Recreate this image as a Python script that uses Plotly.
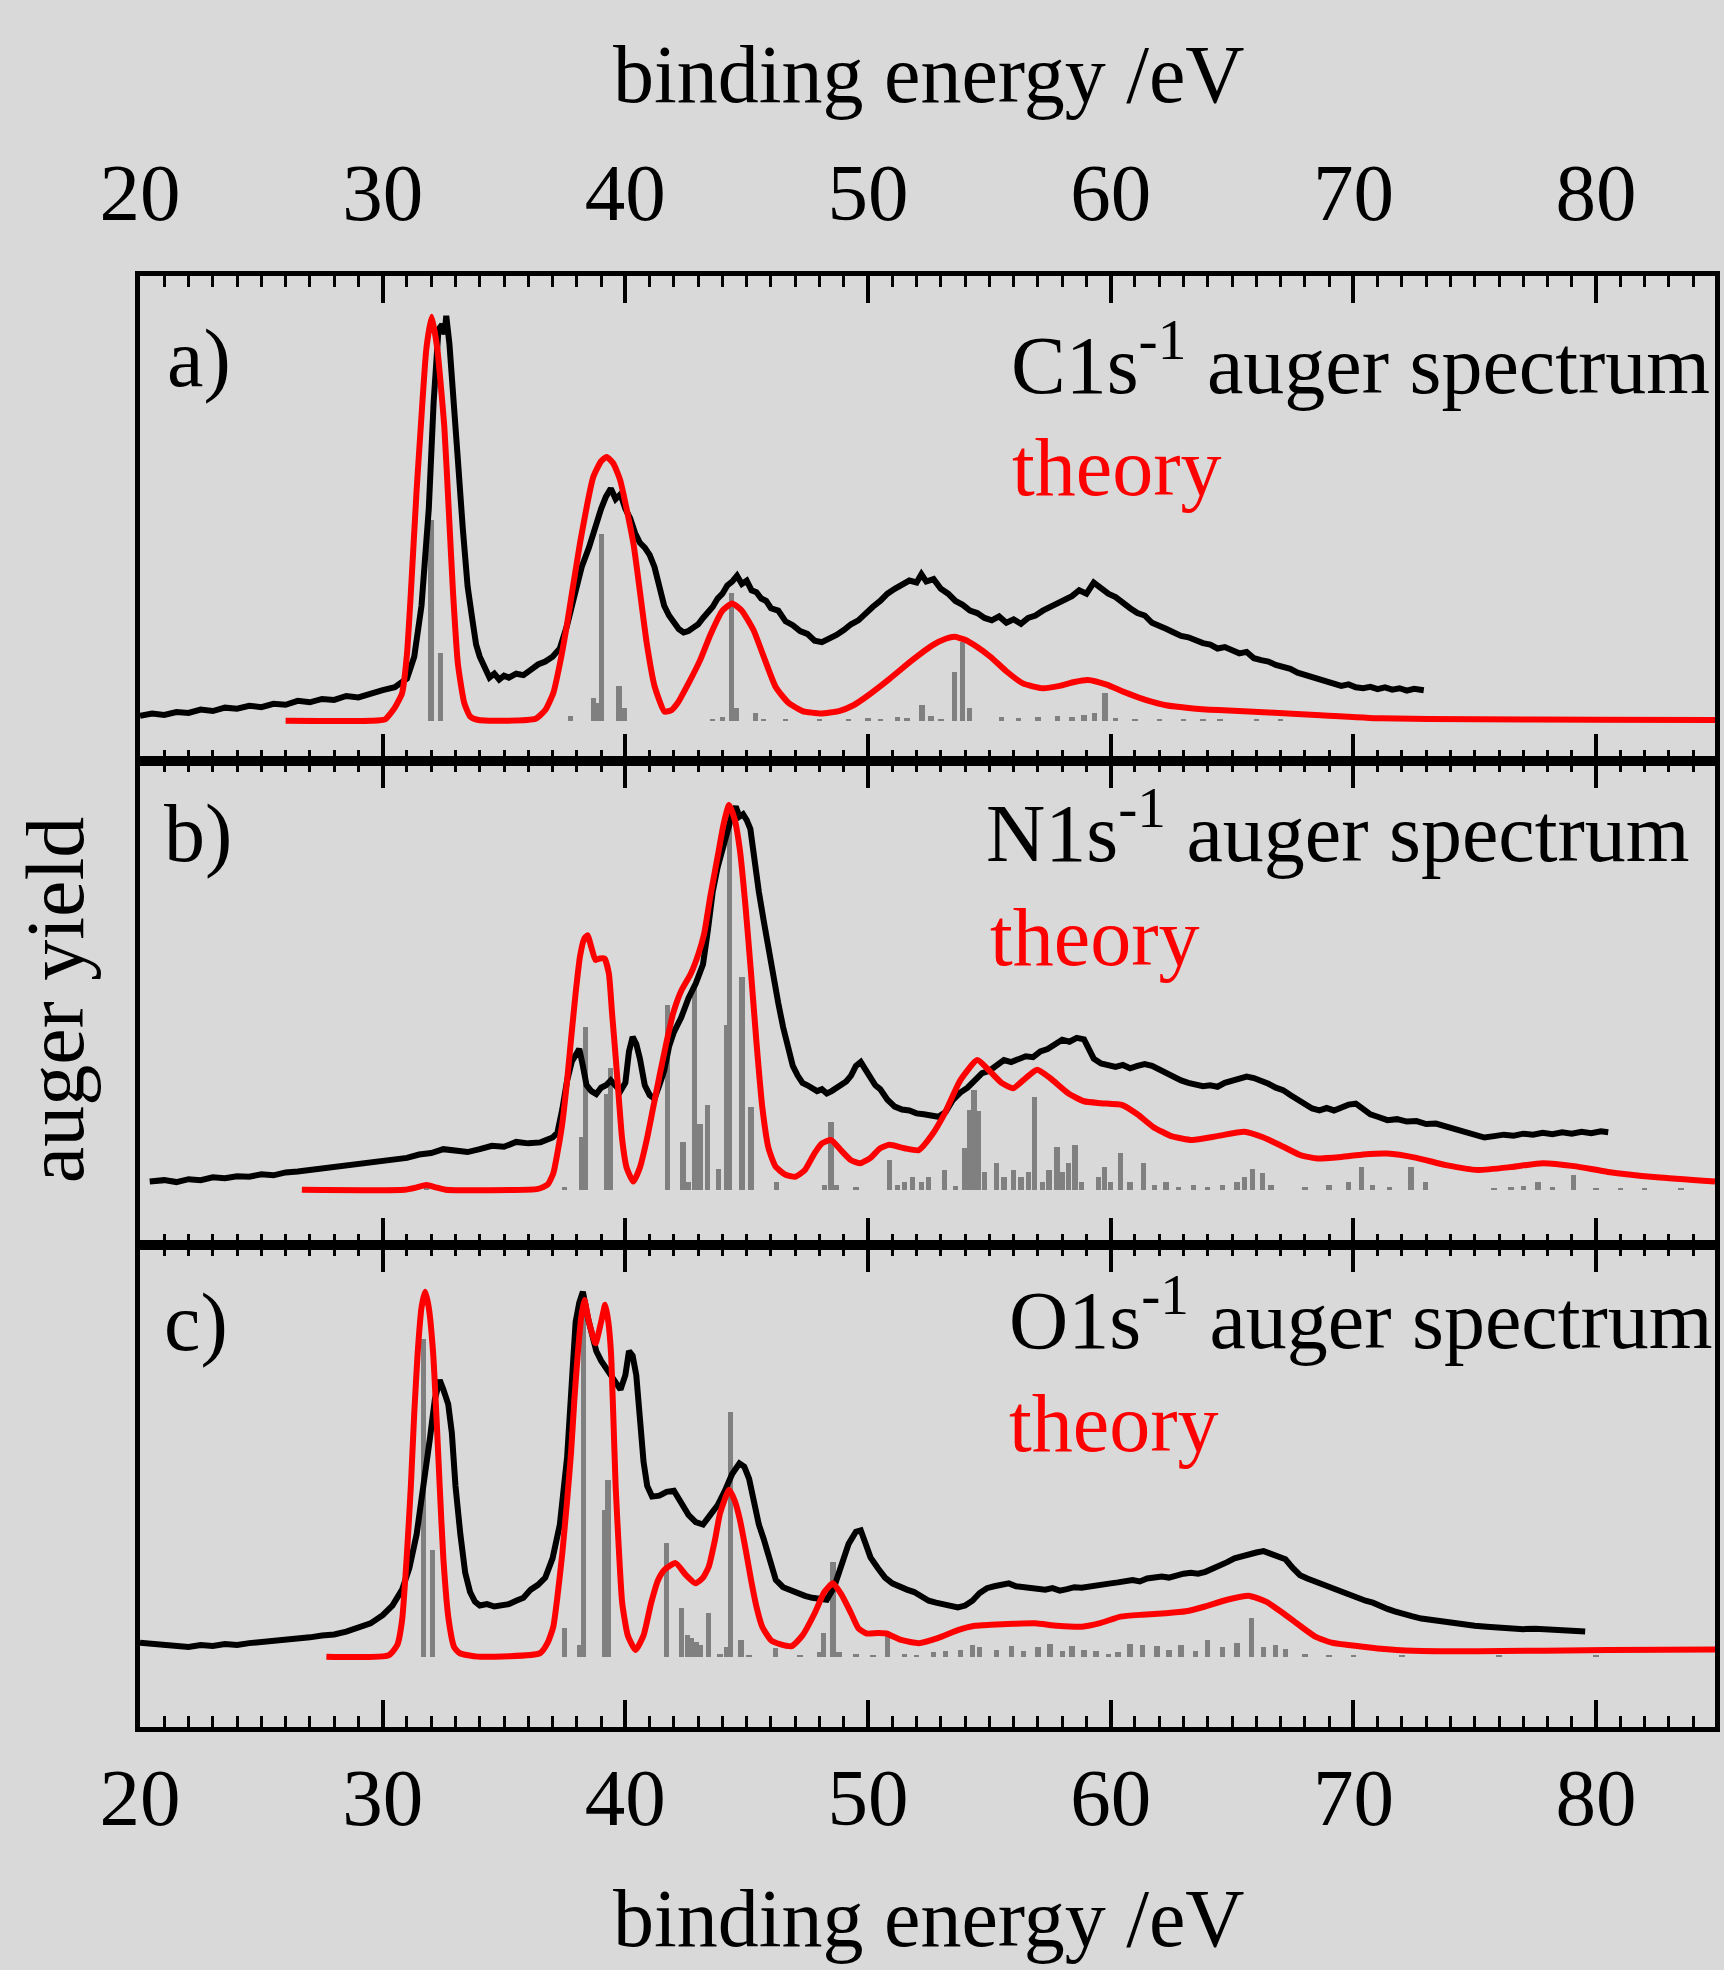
import plotly.graph_objects as go

# ---------------- data (energies in eV, intensities in arbitrary units) ----------------
x_range = [20, 84.9]
tick_vals = [20, 30, 40, 50, 60, 70, 80]
tick_text = ["20", "30", "40", "50", "60", "70", "80"]

# panel a) C1s
a_exp_x = [20.0,20.5,21.0,21.5,22.0,22.5,23.0,23.5,24.0,24.5,25.0,25.5,26.0,26.5,27.0,27.5,28.0,28.5,29.0,29.5,30.0,30.5,31.0,31.3,31.6,31.9,32.1,32.3,32.45,32.55,32.62,32.75,32.9,33.1,33.3,33.5,33.7,33.85,34.0,34.2,34.4,34.6,34.8,35.0,35.2,35.5,35.8,36.1,36.4,36.7,37.0,37.3,37.6,37.9,38.2,38.5,38.8,39.0,39.2,39.4,39.6,39.8,40.0,40.2,40.4,40.6,40.8,41.0,41.2,41.4,41.6,41.8,42.0,42.2,42.4,42.6,42.8,43.0,43.2,43.4,43.6,43.8,44.0,44.2,44.4,44.6,44.8,45.0,45.2,45.4,45.6,45.8,46.0,46.3,46.6,46.9,47.2,47.5,47.8,48.1,48.4,48.7,49.0,49.3,49.6,49.9,50.2,50.5,50.8,51.1,51.4,51.7,52.0,52.2,52.4,52.7,53.0,53.3,53.6,53.9,54.2,54.5,54.8,55.1,55.4,55.7,56.0,56.3,56.6,56.9,57.2,57.5,57.8,58.1,58.4,58.7,59.0,59.3,59.6,59.9,60.2,60.5,60.8,61.1,61.4,61.7,62.0,62.3,62.6,62.9,63.2,63.5,63.8,64.1,64.4,64.7,65.0,65.3,65.6,65.9,66.2,66.5,66.8,67.1,67.4,67.7,68.0,68.3,68.6,68.9,69.2,69.5,69.8,70.1,70.4,70.7,71.0,71.3,71.6,71.9,72.2,72.5,72.9]
a_exp_y = [0.093,0.098,0.095,0.101,0.099,0.106,0.103,0.110,0.108,0.114,0.111,0.118,0.116,0.124,0.121,0.128,0.126,0.134,0.131,0.140,0.146,0.152,0.170,0.215,0.320,0.520,0.740,0.890,0.900,0.880,0.918,0.860,0.770,0.620,0.480,0.360,0.290,0.240,0.215,0.190,0.172,0.180,0.168,0.176,0.172,0.180,0.177,0.188,0.199,0.205,0.215,0.232,0.280,0.340,0.400,0.440,0.490,0.520,0.545,0.562,0.540,0.550,0.520,0.500,0.470,0.450,0.440,0.425,0.400,0.360,0.320,0.300,0.285,0.272,0.265,0.268,0.275,0.282,0.295,0.305,0.318,0.335,0.345,0.362,0.370,0.382,0.365,0.372,0.352,0.348,0.335,0.330,0.315,0.310,0.288,0.280,0.268,0.262,0.248,0.245,0.252,0.260,0.270,0.282,0.290,0.305,0.318,0.330,0.345,0.355,0.362,0.372,0.368,0.385,0.370,0.375,0.355,0.345,0.330,0.322,0.310,0.305,0.295,0.290,0.298,0.285,0.292,0.283,0.295,0.300,0.310,0.318,0.325,0.335,0.340,0.352,0.345,0.368,0.355,0.345,0.338,0.325,0.315,0.305,0.300,0.285,0.280,0.272,0.265,0.258,0.255,0.248,0.243,0.240,0.232,0.235,0.228,0.222,0.225,0.212,0.208,0.205,0.198,0.195,0.190,0.182,0.178,0.172,0.168,0.163,0.160,0.155,0.158,0.152,0.150,0.153,0.148,0.152,0.147,0.150,0.145,0.149,0.146]
a_th_x = [26.0,29.5,30.1,30.5,30.8,31.0,31.16,31.4,31.57,31.8,32.02,32.25,32.54,32.72,32.9,33.1,33.36,33.6,33.9,35.0,36.3,36.7,37.03,37.3,37.58,38.13,38.68,39.0,39.23,39.5,39.78,40.33,40.88,41.2,41.61,41.9,42.16,42.6,43.08,43.5,44.0,44.4,44.8,45.28,45.65,46.2,46.72,47.3,48.07,48.8,49.4,49.94,50.9,51.82,52.7,53.2,53.56,54.0,54.5,55.04,55.7,56.38,57.19,57.9,58.5,59.06,59.8,60.67,61.5,62.28,63.3,64.43,66.5,68.45,71.13,75.0,80.0,84.9]
a_th_y = [0.083,0.083,0.086,0.110,0.140,0.220,0.346,0.560,0.689,0.850,0.916,0.850,0.689,0.520,0.346,0.200,0.120,0.092,0.085,0.083,0.087,0.105,0.140,0.200,0.277,0.449,0.586,0.618,0.627,0.614,0.580,0.449,0.243,0.155,0.102,0.105,0.120,0.160,0.208,0.260,0.310,0.325,0.310,0.270,0.222,0.152,0.120,0.103,0.098,0.103,0.115,0.133,0.170,0.208,0.240,0.252,0.256,0.250,0.235,0.215,0.185,0.160,0.150,0.155,0.163,0.167,0.158,0.140,0.125,0.115,0.109,0.105,0.100,0.095,0.088,0.086,0.085,0.0845]
a_stick_x = [31.99,32.37,37.73,38.68,38.8,39.01,39.74,39.96,43.6,44.0,44.36,44.58,45.35,45.7,46.6,48.0,49.2,50.0,50.5,51.2,51.6,52.22,52.6,53.0,53.56,53.88,54.18,55.5,56.2,57.0,57.8,58.4,58.9,59.33,59.76,60.2,61.0,62.0,63.0,63.8,64.5,66.0,67.0]
a_stick_top = [0.497,0.222,0.093,0.129,0.120,0.469,0.155,0.110,0.087,0.090,0.346,0.110,0.100,0.086,0.086,0.086,0.087,0.088,0.086,0.090,0.089,0.115,0.092,0.086,0.184,0.246,0.110,0.090,0.088,0.090,0.093,0.090,0.094,0.100,0.140,0.088,0.087,0.086,0.087,0.086,0.086,0.085,0.085]
a_base = 0.083

# panel b) N1s
b_exp_x = [20.4,21.0,21.5,22.0,22.5,23.0,23.5,24.0,24.5,25.0,25.5,26.0,26.5,27.0,27.5,28.0,28.5,29.0,29.5,30.0,30.5,31.0,31.5,32.0,32.5,33.0,33.5,34.0,34.5,35.0,35.5,36.0,36.5,37.0,37.2,37.4,37.6,37.8,38.0,38.1,38.25,38.4,38.6,38.8,39.0,39.2,39.4,39.6,39.8,40.0,40.15,40.3,40.45,40.6,40.8,41.0,41.2,41.4,41.6,41.8,42.0,42.3,42.6,42.9,43.2,43.4,43.6,43.8,44.0,44.2,44.4,44.55,44.7,44.85,45.0,45.15,45.3,45.5,45.7,45.9,46.1,46.3,46.5,46.7,46.9,47.1,47.3,47.5,47.7,47.9,48.1,48.3,48.5,48.7,48.9,49.1,49.3,49.5,49.7,49.9,50.1,50.3,50.5,50.8,51.1,51.4,51.7,52.0,52.3,52.6,52.9,53.2,53.5,53.8,54.1,54.4,54.7,55.0,55.3,55.6,55.9,56.2,56.5,56.8,57.1,57.4,57.7,58.0,58.3,58.6,58.9,59.1,59.3,59.6,59.9,60.2,60.5,60.8,61.1,61.4,61.7,62.0,62.3,62.6,62.9,63.2,63.5,63.8,64.1,64.4,64.7,65.0,65.3,65.6,65.9,66.2,66.5,66.8,67.1,67.4,67.7,68.0,68.3,68.6,68.9,69.2,69.5,69.8,70.1,70.4,70.7,71.0,71.4,71.8,72.2,72.6,73.0,73.4,73.8,74.2,74.6,75.0,75.4,75.8,76.2,76.6,77.0,77.4,77.8,78.2,78.6,79.0,79.4,79.8,80.2,80.5]
b_exp_y = [0.131,0.134,0.130,0.136,0.134,0.140,0.138,0.142,0.141,0.146,0.144,0.150,0.152,0.155,0.158,0.160,0.163,0.166,0.170,0.174,0.178,0.180,0.187,0.190,0.198,0.194,0.192,0.198,0.205,0.203,0.213,0.210,0.212,0.222,0.232,0.280,0.340,0.380,0.400,0.405,0.370,0.330,0.318,0.312,0.325,0.330,0.340,0.330,0.318,0.335,0.400,0.430,0.415,0.385,0.330,0.310,0.302,0.330,0.360,0.410,0.440,0.470,0.510,0.540,0.580,0.650,0.730,0.780,0.820,0.850,0.890,0.906,0.885,0.890,0.878,0.860,0.800,0.730,0.670,0.610,0.550,0.500,0.450,0.410,0.370,0.350,0.335,0.330,0.325,0.318,0.322,0.313,0.318,0.325,0.330,0.338,0.350,0.370,0.378,0.360,0.348,0.330,0.322,0.300,0.286,0.280,0.278,0.272,0.270,0.266,0.265,0.275,0.300,0.315,0.325,0.340,0.355,0.360,0.370,0.382,0.378,0.385,0.390,0.388,0.400,0.405,0.415,0.424,0.420,0.428,0.425,0.405,0.385,0.375,0.370,0.368,0.372,0.365,0.370,0.374,0.370,0.362,0.355,0.345,0.340,0.335,0.330,0.328,0.330,0.327,0.335,0.340,0.345,0.348,0.345,0.340,0.333,0.325,0.320,0.310,0.300,0.290,0.282,0.278,0.283,0.278,0.285,0.290,0.292,0.280,0.270,0.265,0.258,0.260,0.255,0.256,0.250,0.251,0.245,0.238,0.232,0.226,0.222,0.225,0.228,0.226,0.230,0.228,0.232,0.229,0.233,0.230,0.234,0.231,0.235,0.233]
b_th_x = [26.67,30.9,31.4,31.8,32.2,32.6,36.4,36.8,37.03,37.2,37.4,37.6,37.76,37.95,38.13,38.3,38.44,38.6,38.77,38.95,39.14,39.32,39.45,39.6,39.75,39.87,40.05,40.33,40.6,40.88,41.15,41.43,41.7,41.97,42.3,42.7,43.0,43.25,43.5,43.8,44.05,44.27,44.5,44.72,44.95,45.18,45.4,45.64,45.9,46.19,46.6,47.0,47.4,47.8,48.1,48.47,48.9,49.3,49.68,50.1,50.5,50.88,51.5,52.09,52.6,53.16,53.8,54.5,55.0,55.5,55.98,56.5,56.97,57.5,58.26,58.9,59.6,60.48,61.1,61.75,62.5,63.36,64.4,65.5,66.3,67.11,67.8,68.45,69.5,70.4,71.4,72.6,73.82,75.13,76.5,77.8,79.1,80.49,82.5,84.9]
b_th_y = [0.114,0.114,0.119,0.124,0.119,0.114,0.116,0.125,0.148,0.190,0.251,0.340,0.424,0.520,0.596,0.632,0.640,0.615,0.589,0.592,0.592,0.561,0.480,0.389,0.290,0.217,0.160,0.131,0.160,0.217,0.285,0.355,0.420,0.479,0.525,0.561,0.600,0.644,0.720,0.802,0.870,0.909,0.880,0.816,0.700,0.561,0.420,0.286,0.200,0.162,0.145,0.141,0.155,0.190,0.210,0.217,0.195,0.175,0.169,0.180,0.200,0.207,0.200,0.196,0.225,0.272,0.340,0.382,0.360,0.335,0.324,0.345,0.362,0.345,0.313,0.297,0.293,0.289,0.270,0.244,0.225,0.217,0.225,0.234,0.222,0.203,0.186,0.179,0.182,0.187,0.189,0.180,0.165,0.155,0.161,0.169,0.163,0.151,0.140,0.131]
b_stick_x = [31.8,37.49,38.18,38.37,39.23,39.38,41.74,42.37,42.6,42.84,43.07,43.38,43.84,44.17,44.3,44.81,45.18,46.23,48.2,48.47,48.7,49.5,50.88,51.2,51.5,51.83,52.2,52.5,53.16,53.6,54.0,54.18,54.36,54.56,54.8,55.3,55.6,55.98,56.3,56.6,56.86,57.2,57.46,57.78,58.0,58.26,58.53,58.8,59.5,59.73,60.0,60.4,60.8,61.34,61.8,62.28,62.8,63.4,64.0,64.6,65.2,65.5,65.85,66.26,66.6,68.0,69.0,69.8,70.33,70.8,71.5,72.37,72.96,75.8,76.5,77.0,77.6,78.2,79.08,80.0,81.0,82.0,83.5]
b_stick_top = [0.124,0.120,0.224,0.451,0.313,0.365,0.496,0.213,0.130,0.537,0.251,0.289,0.158,0.454,0.902,0.554,0.286,0.130,0.125,0.255,0.125,0.120,0.176,0.125,0.130,0.140,0.130,0.140,0.155,0.122,0.200,0.279,0.320,0.276,0.150,0.169,0.140,0.155,0.140,0.150,0.306,0.130,0.155,0.203,0.150,0.169,0.207,0.130,0.140,0.162,0.130,0.190,0.130,0.169,0.125,0.130,0.120,0.125,0.120,0.125,0.130,0.140,0.158,0.148,0.125,0.120,0.125,0.130,0.162,0.125,0.120,0.162,0.130,0.118,0.120,0.122,0.130,0.120,0.145,0.118,0.116,0.116,0.116]
b_base = 0.114

# panel c) O1s
c_exp_x = [20.0,20.5,21.0,21.5,22.0,22.5,23.0,23.5,24.0,24.5,25.0,25.5,26.0,26.5,27.0,27.5,28.0,28.5,29.0,29.5,30.0,30.4,30.8,31.1,31.4,31.7,31.95,32.15,32.35,32.5,32.7,32.85,33.0,33.2,33.4,33.6,33.8,34.0,34.3,34.6,34.9,35.2,35.5,35.8,36.1,36.4,36.7,37.0,37.3,37.6,37.8,37.95,38.1,38.25,38.45,38.6,38.8,39.0,39.2,39.4,39.6,39.8,40.0,40.15,40.3,40.45,40.6,40.75,40.9,41.1,41.4,41.7,42.0,42.3,42.6,42.9,43.2,43.5,43.8,44.1,44.4,44.7,44.9,45.1,45.3,45.5,45.7,45.9,46.2,46.5,46.8,47.1,47.4,47.7,48.0,48.3,48.6,48.9,49.2,49.5,49.7,49.9,50.1,50.4,50.7,51.0,51.3,51.6,51.9,52.2,52.5,52.8,53.1,53.4,53.7,54.0,54.3,54.6,54.9,55.2,55.5,55.8,56.1,56.4,56.7,57.0,57.3,57.6,57.9,58.2,58.5,58.8,59.1,59.4,59.7,60.0,60.3,60.6,60.9,61.2,61.5,61.8,62.1,62.4,62.7,63.0,63.3,63.6,63.9,64.2,64.5,64.8,65.1,65.4,65.7,66.0,66.3,66.6,66.9,67.2,67.5,67.8,68.1,68.4,68.7,69.0,69.3,69.6,69.9,70.2,70.5,70.8,71.1,71.4,71.7,72.0,72.4,72.8,73.2,73.6,74.0,74.5,75.0,75.5,76.0,76.5,77.0,77.5,78.0,78.5,79.0,79.55]
c_exp_y = [0.175,0.172,0.170,0.168,0.166,0.170,0.168,0.172,0.170,0.174,0.176,0.178,0.180,0.183,0.186,0.190,0.192,0.198,0.205,0.215,0.232,0.252,0.285,0.330,0.400,0.500,0.600,0.680,0.720,0.700,0.670,0.610,0.500,0.400,0.320,0.280,0.260,0.252,0.255,0.250,0.252,0.255,0.262,0.268,0.285,0.295,0.310,0.350,0.420,0.560,0.720,0.840,0.880,0.903,0.850,0.820,0.780,0.760,0.745,0.735,0.720,0.700,0.730,0.780,0.770,0.730,0.640,0.550,0.500,0.478,0.480,0.488,0.490,0.465,0.440,0.425,0.420,0.440,0.460,0.490,0.525,0.547,0.540,0.515,0.470,0.420,0.390,0.355,0.305,0.290,0.283,0.278,0.272,0.268,0.265,0.264,0.290,0.340,0.380,0.405,0.408,0.380,0.352,0.330,0.310,0.298,0.290,0.285,0.280,0.270,0.262,0.258,0.255,0.250,0.248,0.252,0.262,0.278,0.288,0.292,0.295,0.298,0.292,0.290,0.286,0.284,0.285,0.288,0.283,0.286,0.290,0.289,0.292,0.294,0.296,0.298,0.300,0.302,0.305,0.302,0.308,0.310,0.312,0.310,0.315,0.318,0.320,0.318,0.322,0.328,0.335,0.342,0.350,0.355,0.358,0.362,0.365,0.360,0.355,0.348,0.330,0.315,0.308,0.302,0.298,0.292,0.285,0.278,0.272,0.268,0.262,0.258,0.250,0.245,0.240,0.235,0.230,0.225,0.222,0.218,0.215,0.212,0.210,0.208,0.206,0.205,0.203,0.204,0.202,0.200,0.201,0.198]
c_th_x = [27.68,30.25,30.6,30.8,31.0,31.16,31.3,31.44,31.6,31.75,31.9,32.08,32.22,32.35,32.5,32.72,32.95,33.18,33.92,36.48,36.8,37.03,37.2,37.4,37.6,37.76,37.9,38.04,38.18,38.31,38.5,38.77,39.0,39.17,39.3,39.41,39.5,39.6,39.73,39.87,40.1,40.42,40.75,41.06,41.35,41.61,42.07,42.5,42.89,43.2,43.44,43.7,43.9,44.27,44.5,44.72,44.95,45.18,45.4,45.64,46.0,46.37,46.86,47.3,47.8,48.2,48.55,48.9,49.3,49.6,49.94,50.4,50.75,51.4,52.09,52.9,53.7,54.4,55.04,56.0,56.88,57.8,58.8,59.6,60.4,61.3,62.28,63.1,63.89,64.8,65.72,66.4,67.11,67.8,68.45,69.1,69.79,71.0,72.47,75.13,80.49,84.9]
c_th_y = [0.146,0.149,0.170,0.222,0.360,0.499,0.650,0.775,0.870,0.903,0.870,0.775,0.640,0.499,0.350,0.222,0.165,0.153,0.146,0.153,0.175,0.208,0.270,0.360,0.470,0.568,0.680,0.775,0.850,0.886,0.840,0.796,0.840,0.876,0.840,0.775,0.650,0.499,0.370,0.257,0.190,0.160,0.190,0.257,0.305,0.326,0.340,0.315,0.298,0.310,0.333,0.390,0.443,0.492,0.470,0.430,0.370,0.305,0.250,0.208,0.180,0.172,0.168,0.190,0.236,0.280,0.298,0.275,0.236,0.205,0.194,0.195,0.194,0.180,0.174,0.185,0.201,0.210,0.212,0.214,0.215,0.210,0.208,0.216,0.229,0.233,0.236,0.240,0.250,0.264,0.272,0.260,0.236,0.210,0.187,0.175,0.170,0.163,0.158,0.157,0.160,0.161]
c_stick_x = [31.68,32.04,35.3,37.49,38.13,38.27,39.14,39.29,41.7,42.3,42.55,42.72,42.91,43.1,43.42,43.9,44.17,44.33,44.77,45.1,46.19,47.2,48.0,48.16,48.55,48.8,49.5,50.2,50.8,51.5,52.0,52.7,53.2,53.8,54.3,54.6,55.3,55.9,56.4,57.0,57.5,58.0,58.4,58.9,59.4,59.9,60.3,60.8,61.3,61.9,62.4,62.9,63.5,64.0,64.6,65.2,65.8,66.3,66.8,67.2,68.0,69.0,70.0,72.0,76.0,80.0]
c_stick_top = [0.806,0.367,0.150,0.205,0.170,0.900,0.450,0.512,0.381,0.246,0.190,0.184,0.177,0.170,0.236,0.152,0.167,0.654,0.180,0.150,0.163,0.148,0.155,0.194,0.343,0.155,0.152,0.150,0.191,0.152,0.150,0.155,0.158,0.160,0.170,0.165,0.160,0.168,0.158,0.165,0.172,0.158,0.168,0.160,0.158,0.152,0.155,0.172,0.170,0.168,0.160,0.170,0.158,0.180,0.165,0.175,0.2255,0.165,0.170,0.162,0.152,0.150,0.149,0.148,0.148,0.148]
c_base = 0.146

panel_labels = ["a)", "b)", "c)"]
panel_titles = ["C1s<sup>-1</sup> auger spectrum", "N1s<sup>-1</sup> auger spectrum",
                "O1s<sup>-1</sup> auger spectrum"]
theory_label = "theory"
x_title = "binding energy /eV"
y_title = "auger yield"

# ---------------- figure ----------------
W, H = 1724, 1970
L, R, T, B = 140, 4, 276, 243
PW, PH = W - L - R, H - T - B
FONT = "Liberation Serif, Times New Roman, serif"
BG = "#d9d9d9"
GRAY = "#808080"
RED = "#ff0000"
TXT = 82


def px(xp):
    return (xp - L) / PW


def py(yp):
    return (H - B - yp) / PH


fig = go.Figure()
panels = [
    (a_exp_x, a_exp_y, a_th_x, a_th_y, a_stick_x, a_stick_top, a_base),
    (b_exp_x, b_exp_y, b_th_x, b_th_y, b_stick_x, b_stick_top, b_base),
    (c_exp_x, c_exp_y, c_th_x, c_th_y, c_stick_x, c_stick_top, c_base),
]
for i, (ex, ey, tx, ty, sx, st, base) in enumerate(panels):
    xa = "x" if i == 0 else f"x{i+1}"
    ya = "y" if i == 0 else f"y{i+1}"
    fig.add_trace(go.Scatter(x=ex, y=ey, mode="lines", xaxis=xa, yaxis=ya,
                             line=dict(color="black", width=6), showlegend=False))
    fig.add_trace(go.Bar(x=sx, y=[v - base for v in st], base=base, width=0.22,
                         xaxis=xa, yaxis=ya, marker=dict(color=GRAY, line=dict(width=0)),
                         showlegend=False))
    fig.add_trace(go.Scatter(x=tx, y=ty, mode="lines", xaxis=xa, yaxis=ya,
                             line=dict(color=RED, width=6, shape="spline", smoothing=0.5),
                             showlegend=False))

# panel boundaries in pixels
bounds = [(276, 761), (761, 1245), (1245, 1727)]
xaxis_common = dict(range=x_range, tickvals=tick_vals, ticktext=tick_text,
                    ticks="inside", ticklen=27, tickwidth=3.5, tickcolor="black",
                    minor=dict(dtick=1, tick0=20, ticks="inside", ticklen=11, tickwidth=3,
                               tickcolor="black"),
                    showline=True, linecolor="black", linewidth=5, mirror="ticks",
                    showgrid=False, zeroline=False,
                    tickfont=dict(family=FONT, size=81, color="black"))
yaxis_common = dict(range=[0, 1], showline=True, linecolor="black", linewidth=5,
                    mirror=True, ticks="", showticklabels=False, showgrid=False,
                    zeroline=False, fixedrange=True)

layout = dict(width=W, height=H, margin=dict(l=L, r=R, t=T, b=B, pad=0),
              paper_bgcolor=BG, plot_bgcolor=BG, barmode="overlay", bargap=0,
              font=dict(family=FONT, color="black"))
for i, (top, bot) in enumerate(bounds):
    xa = "xaxis" if i == 0 else f"xaxis{i+1}"
    ya = "yaxis" if i == 0 else f"yaxis{i+1}"
    yanchor_name = "y" if i == 0 else f"y{i+1}"
    xd = dict(xaxis_common, anchor=yanchor_name)
    if i == 0:
        xd.update(side="top", ticklabelstandoff=19)
    elif i == 2:
        xd.update(side="bottom", ticklabelstandoff=-4)
    else:
        xd.update(showticklabels=False)
    if i > 0:
        xd.update(matches="x")
    layout[xa] = xd
    layout[ya] = dict(yaxis_common, domain=[py(bot), py(top)],
                      anchor="x" if i == 0 else f"x{i+1}")
fig.update_layout(**layout)

ann = []
label_pos = [(165, 406), (162, 881), (162, 1370)]
title_pos = [(1012, 413), (987, 881), (1010, 1368)]
theory_pos = [(1013, 515), (991, 985), (1010, 1471)]
for i in range(3):
    ann.append(dict(text=panel_labels[i], x=px(label_pos[i][0]), y=py(label_pos[i][1]),
                    xref="paper", yref="paper", xanchor="left", yanchor="bottom",
                    showarrow=False, font=dict(family=FONT, size=TXT, color="black")))
    ann.append(dict(text=panel_titles[i], x=px(title_pos[i][0]), y=py(title_pos[i][1]),
                    xref="paper", yref="paper", xanchor="left", yanchor="bottom",
                    showarrow=False, font=dict(family=FONT, size=TXT, color="black")))
    ann.append(dict(text=theory_label, x=px(theory_pos[i][0]), y=py(theory_pos[i][1]),
                    xref="paper", yref="paper", xanchor="left", yanchor="bottom",
                    showarrow=False, font=dict(family=FONT, size=TXT, color=RED)))
ann.append(dict(text=x_title, x=px(932), y=py(122), xref="paper", yref="paper",
                xanchor="center", yanchor="bottom", showarrow=False,
                font=dict(family=FONT, size=TXT, color="black")))
ann.append(dict(text=x_title, x=px(932), y=py(1966), xref="paper", yref="paper",
                xanchor="center", yanchor="bottom", showarrow=False,
                font=dict(family=FONT, size=TXT, color="black")))
ann.append(dict(text=y_title, x=px(55), y=py(1000), xref="paper", yref="paper",
                xanchor="center", yanchor="middle", textangle=-90, showarrow=False,
                font=dict(family=FONT, size=TXT, color="black")))
fig.update_layout(annotations=ann)

fig.write_html("out.html", config={"displayModeBar": False},
               post_script="document.body.style.margin='0px';")
